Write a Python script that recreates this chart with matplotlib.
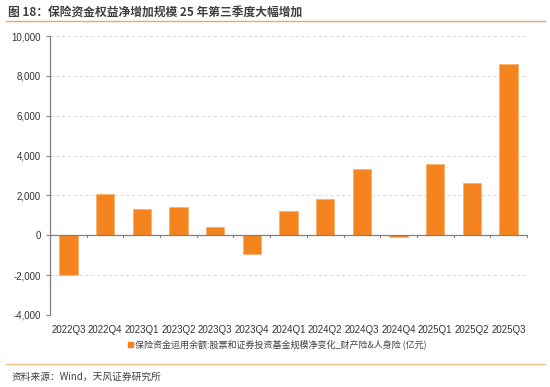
import matplotlib.pyplot as plt
from matplotlib.lines import Line2D
from matplotlib.patches import Rectangle

plt.rcParams['font.family'] = ['Noto Sans CJK SC', 'DejaVu Sans']
num_font = ['Liberation Sans', 'Noto Sans CJK SC']

quarters = ['2022Q3', '2022Q4', '2023Q1', '2023Q2', '2023Q3', '2023Q4', '2024Q1',
            '2024Q2', '2024Q3', '2024Q4', '2025Q1', '2025Q2', '2025Q3']
values = [-1980, 2070, 1320, 1400, 400, -950, 1220, 1810, 3320, -85, 3590, 2610, 8590]
yticks = [-4000, -2000, 0, 2000, 4000, 6000, 8000, 10000]

orange = '#F5841F'
gray = '#808080'

fig = plt.figure(figsize=(5.5, 3.87), dpi=100)
ax = fig.add_axes([50 / 550, 1 - 315 / 387, 477 / 550, 279 / 387])

x = range(len(quarters))
ax.bar(x, values, width=0.5, color=orange, edgecolor='#FBB36E', linewidth=0.6, zorder=3)

ax.set_xlim(-0.5, len(quarters) - 0.5)
ax.set_ylim(-4000, 10000)
ax.set_yticks(yticks)
ax.set_yticklabels([f'{v:,}' for v in yticks], fontsize=7, color='#333333', family=num_font)
ax.set_xticks(list(x))
ax.set_xticklabels(quarters, fontsize=7, color='#333333', family=num_font)
ax.tick_params(axis='x', length=0, pad=7)
ax.tick_params(axis='y', length=3, color=gray, width=0.8)

# small ticks between categories on the zero line
for b in range(len(quarters) + 1):
    ax.plot([b - 0.5, b - 0.5], [0, -90], color=gray, lw=0.8, zorder=4, clip_on=False)

ax.grid(axis='y', linestyle=(0, (3, 3)), color='#D9D9D9', linewidth=0.7, zorder=0)
ax.axhline(0, color=gray, lw=0.9, zorder=4)
for s in ['top', 'right', 'bottom']:
    ax.spines[s].set_visible(False)
ax.spines['left'].set_color(gray)
ax.spines['left'].set_linewidth(0.9)

# title and decorations
fig.text(8 / 550, 1 - 12 / 387, '图 18：保险资金权益净增加规模 25 年第三季度大幅增加',
         fontsize=8.5, fontweight='bold', color='#404040', va='center')
fig.add_artist(Line2D([6 / 550, 545 / 550], [1 - 21 / 387, 1 - 21 / 387],
                      color='#F4A460', lw=1.0))
fig.add_artist(Line2D([6 / 550, 545 / 550], [1 - 364 / 387, 1 - 364 / 387],
                      color='#F9C08A', lw=1.0))

# legend
fig.add_artist(Rectangle((128 / 550, 1 - 346.5 / 387), 4.5 / 550, 4.5 / 387,
                         transform=fig.transFigure, color=orange))
fig.text(135 / 550, 1 - 344 / 387, '保险资金运用余额:股票和证券投资基金规模净变化_财产险&人身险 (亿元)',
         fontsize=6.5, color='#404040', va='center')

fig.text(12 / 550, 1 - 377 / 387, '资料来源：Wind，天风证券研究所',
         fontsize=7, color='#404040', va='center')

fig.savefig('out.png', dpi=100)
